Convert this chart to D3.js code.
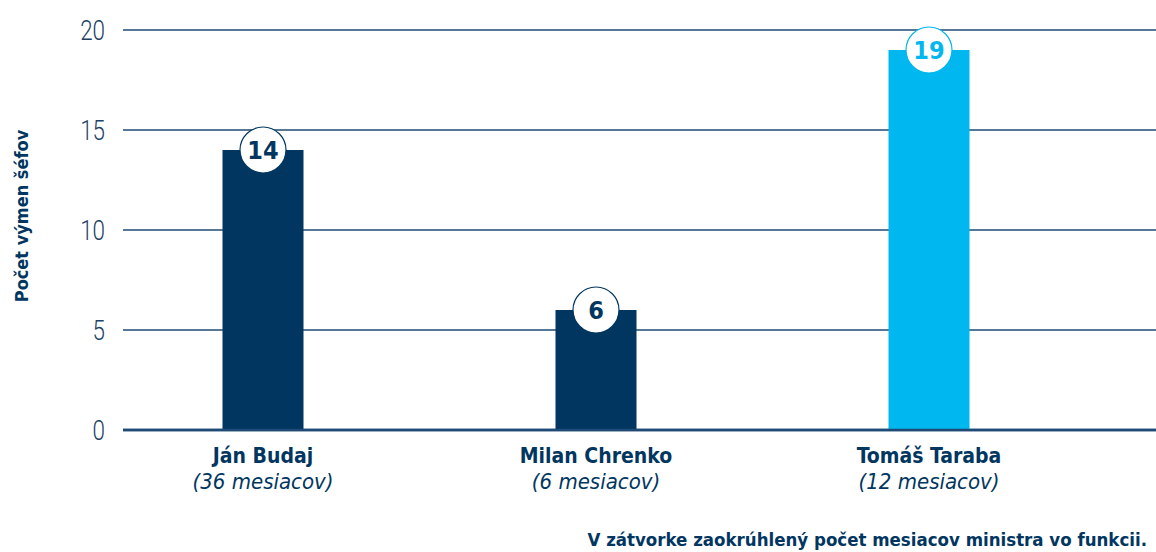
<!DOCTYPE html>
<html>
<head>
<meta charset="utf-8">
<script src="https://cdn.jsdelivr.net/npm/d3@7"></script>
<style>
  body { margin: 0; background: #fff; }
  svg text { font-family: "DejaVu Sans Condensed", "Liberation Sans Narrow", "Roboto", sans-serif; }
  svg text.tick { font-family: "Roboto", "DejaVu Sans Condensed", sans-serif; }
</style>
</head>
<body>
<svg id="mainSvg" width="1156" height="552"></svg>
<script>
var ministers = ["Ján Budaj", "Milan Chrenko", "Tomáš Taraba"];
var months = ["(36 mesiacov)", "(6 mesiacov)", "(12 mesiacov)"];
var headChanges = [14, 6, 19];
var barColors = ["#00365f", "#00365f", "#00b7ef"];
var yTicks = [0, 5, 10, 15, 20];

var navy = "#00365f";

var svg = d3.select("#mainSvg");

var y = d3.scaleLinear().domain([0, 20]).range([430, 30]);
var x = d3.scalePoint().domain(ministers).range([263, 929]);
var barWidth = 81;

// grid
var grid = svg.append("g").attr("class", "gridGroup");
grid.selectAll("line")
    .data(yTicks)
    .enter()
    .append("line")
    .attr("x1", 123)
    .attr("x2", 1156)
    .attr("y1", function(d){ return y(d); })
    .attr("y2", function(d){ return y(d); })
    .attr("stroke", "#1f4a75")
    .attr("stroke-width", function(d){ return d == 0 ? 2.5 : 1.3; });

// tick labels, light and narrowed
grid.selectAll("text")
    .data(yTicks)
    .enter()
    .append("text")
    .attr("class", "tick")
    .attr("transform", function(d){ return "translate(105," + y(d) + ") scale(0.8,1)"; })
    .attr("dy", "0.36em")
    .attr("text-anchor", "end")
    .attr("fill", "#1d3f66")
    .attr("font-size", "28px")
    .attr("font-weight", "300")
    .text(function(d){ return d; });

// y title
svg.append("text")
    .attr("transform", "translate(28,216) rotate(-90)")
    .attr("text-anchor", "middle")
    .attr("fill", navy)
    .attr("font-size", "18px")
    .attr("font-weight", "bold")
    .text("Počet výmen šéfov");

// bars
var barGroup = svg.append("g").attr("class", "barGroup");
barGroup.selectAll("rect")
    .data(headChanges)
    .enter()
    .append("rect")
    .attr("x", function(d, i){ return x(ministers[i]) - barWidth / 2; })
    .attr("y", function(d){ return y(d); })
    .attr("width", barWidth)
    .attr("height", function(d){ return y(0) - y(d); })
    .attr("fill", function(d, i){ return barColors[i]; });

// redraw baseline on top of bars
svg.append("line")
    .attr("x1", 123)
    .attr("x2", 1156)
    .attr("y1", y(0))
    .attr("y2", y(0))
    .attr("stroke", "#1f4a75")
    .attr("stroke-width", 2.5);

// value bubbles
var bubbles = barGroup.selectAll(".bubble")
    .data(headChanges)
    .enter()
    .append("g")
    .attr("class", "bubble")
    .attr("transform", function(d, i){
        return "translate(" + x(ministers[i]) + "," + y(d) + ")";
    });

bubbles.append("circle")
    .attr("r", 23)
    .attr("fill", "white")
    .attr("stroke", function(d, i){ return barColors[i]; })
    .attr("stroke-width", 1.2);

bubbles.append("text")
    .attr("text-anchor", "middle")
    .attr("dy", "0.36em")
    .attr("fill", function(d, i){ return barColors[i]; })
    .attr("font-size", "25px")
    .attr("font-weight", "bold")
    .text(function(d){ return d; });

// category labels
var labels = svg.append("g").attr("class", "labelGroup");
labels.selectAll(".name")
    .data(ministers)
    .enter()
    .append("text")
    .attr("class", "name")
    .attr("x", function(d){ return x(d); })
    .attr("y", 463)
    .attr("text-anchor", "middle")
    .attr("fill", navy)
    .attr("font-size", "21px")
    .attr("font-weight", "bold")
    .text(function(d){ return d; });

labels.selectAll(".months")
    .data(months)
    .enter()
    .append("text")
    .attr("class", "months")
    .attr("x", function(d, i){ return x(ministers[i]); })
    .attr("y", 489)
    .attr("text-anchor", "middle")
    .attr("fill", navy)
    .attr("font-size", "22px")
    .attr("font-style", "italic")
    .text(function(d){ return d; });

// footnote
svg.append("text")
    .attr("x", 1147)
    .attr("y", 546)
    .attr("text-anchor", "end")
    .attr("fill", navy)
    .attr("font-size", "18.5px")
    .attr("font-weight", "bold")
    .text("V zátvorke zaokrúhlený počet mesiacov ministra vo funkcii.");
</script>
</body>
</html>
